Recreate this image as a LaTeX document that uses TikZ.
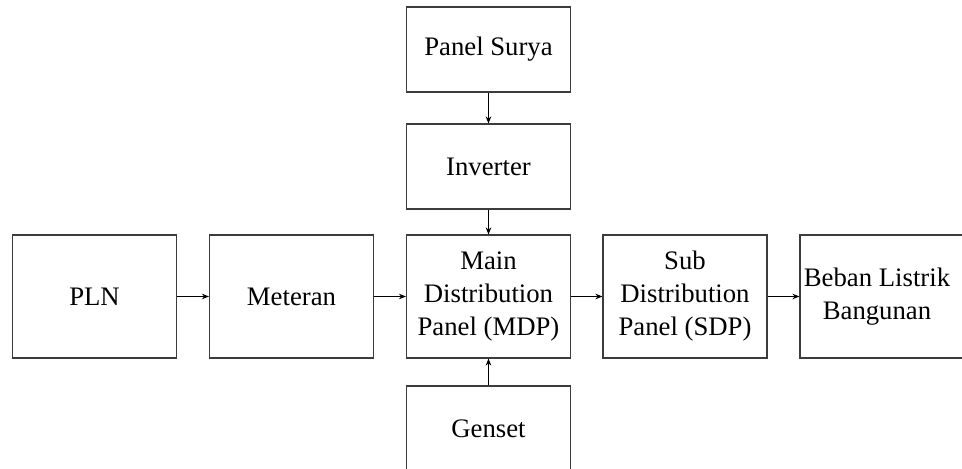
\documentclass[tikz,border=0pt]{standalone}
\usepackage{fontspec}
\setmainfont{Liberation Serif}
\usetikzlibrary{arrows.meta, positioning}
\definecolor{garis}{RGB}{60,60,60}

\tikzset{
    kotak/.style={draw=garis, line width=0.8pt, minimum width=4.1cm,
        align=center, font=\fontsize{19}{23.5}\selectfont, inner sep=2pt},
    besar/.style={kotak, minimum height=3.075cm},
    kecil/.style={kotak, minimum height=2.125cm},
    panah/.style={-{Stealth[length=5pt,width=4pt]}, line width=0.7pt, color=black}
}

\begin{document}
\begin{tikzpicture}[x=0.025cm, y=0.025cm]
\useasboundingbox (0,0) rectangle (962,468);
\node[besar] (pln) at (94.5,171.5) {PLN};
\node[besar] (meteran) at (291.5,171.5) {Meteran};
\node[besar] (mdp) at (488.5,171.5) {Main\\Distribution\\Panel (MDP)};
\node[besar] (sdp) at (685,171.5) {Sub\\Distribution\\Panel (SDP)};
\node[besar, minimum width=4.6cm] (beban) at (892,171.5)
    {\begin{tabular}{@{}c@{}}Beban Listrik\\Bangunan\end{tabular}\hspace*{0.75cm}};
\node[kecil] (surya) at (488.5,418.5) {Panel Surya};
\node[kecil] (inverter) at (488.5,301.5) {Inverter};
\node[kecil] (genset) at (488.5,39.5) {Genset};
\draw[panah] (pln) -- (meteran);
\draw[panah] (meteran) -- (mdp);
\draw[panah] (mdp) -- (sdp);
\draw[panah] (sdp) -- (beban);
\draw[panah] (surya) -- (inverter);
\draw[panah] (inverter) -- (mdp);
\draw[panah] (genset) -- (mdp);
\end{tikzpicture}
\end{document}
